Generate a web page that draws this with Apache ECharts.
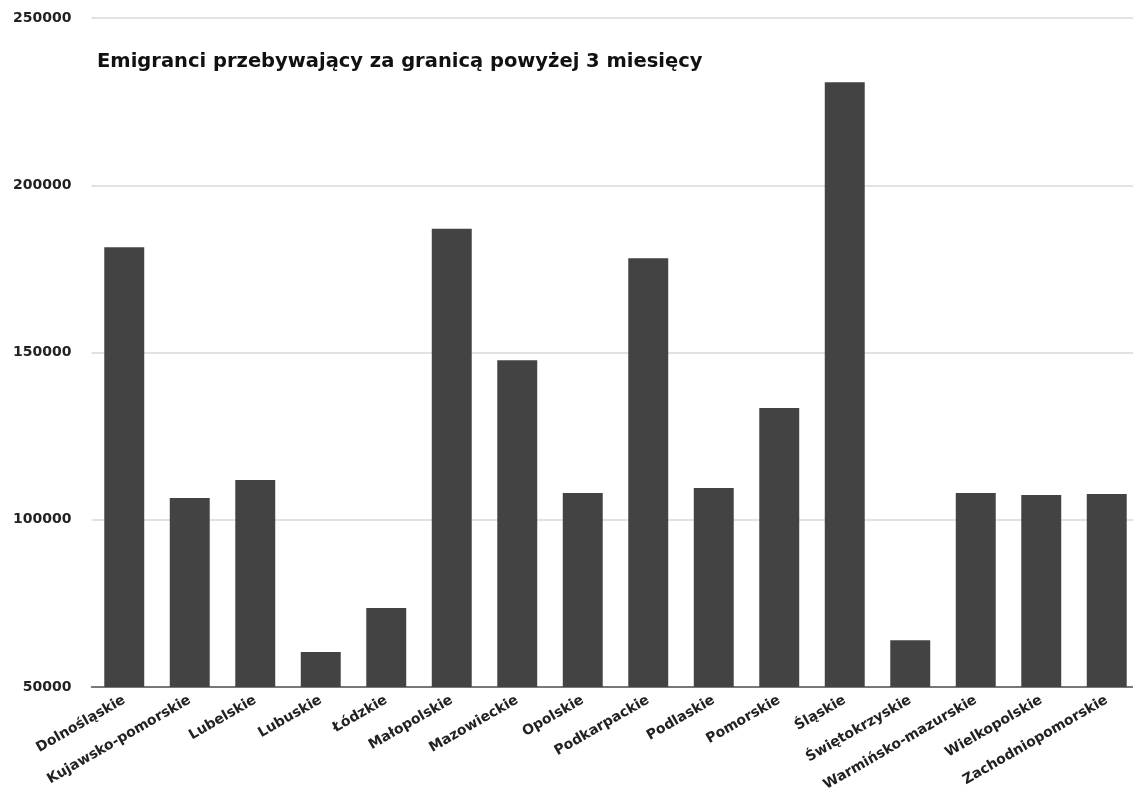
<!DOCTYPE html>
<html>
<head>
<meta charset="utf-8">
<script src="https://cdn.jsdelivr.net/npm/echarts@6/dist/echarts.min.js"></script>
<style>
    html, body { margin: 0; padding: 0; background: #fff; }
    #chart { width: 1133px; height: 801px; }
</style>
</head>
<body>
<div id="chart"></div>
<script>
// województwa
var regions = [
    'Dolnośląskie', 'Kujawsko-pomorskie', 'Lubelskie', 'Lubuskie', 'Łódzkie',
    'Małopolskie', 'Mazowieckie', 'Opolskie', 'Podkarpackie', 'Podlaskie',
    'Pomorskie', 'Śląskie', 'Świętokrzyskie', 'Warmińsko-mazurskie',
    'Wielkopolskie', 'Zachodniopomorskie'
];
var emigrants = [
    181500, 106500, 111900, 60500, 73600,
    187000, 147700, 108000, 178200, 109500,
    133400, 230800, 64000, 108000,
    107400, 107700
];
var yTicks = [50000, 100000, 150000, 200000, 250000];

var labelFont = '"DejaVu Sans", sans-serif';

var myChart = echarts.init(document.getElementById('chart'));
myChart.setOption({
    animation: false,
    title: {
        text: 'Emigranci przebywający za granicą powyżej 3 miesięcy',
        left: 92,
        top: 47,
        textStyle: {
            fontFamily: labelFont,
            fontSize: 19.5,
            fontWeight: 'bold',
            color: '#111',
        },
    },
    grid: {
        left: 91.5,
        top: 18,
        width: 1048,
        bottom: 114,
        containLabel: false,
        outerBoundsMode: 'none',
    },
    xAxis: {
        type: 'category',
        data: regions,
        axisLine: {
            show: true,
            lineStyle: { color: '#555', width: 1.5 },
        },
        axisTick: { show: false },
        axisLabel: {
            interval: 0,
            rotate: 30,
            margin: 12,
            color: '#222',
            fontFamily: labelFont,
            fontSize: 14,
            fontWeight: 'bold',
        },
    },
    yAxis: {
        type: 'value',
        min: yTicks[0],
        max: yTicks[yTicks.length - 1],
        interval: yTicks[1] - yTicks[0],
        axisLine: { show: false },
        axisTick: { show: false },
        axisLabel: {
            margin: 20,
            color: '#222',
            fontFamily: labelFont,
            fontSize: 14,
            fontWeight: 'bold',
            formatter: function (v) { return String(v); },
        },
        splitLine: {
            show: true,
            lineStyle: { color: '#d9d9d9', width: 1.5 },
        },
    },
    series: [{
        type: 'bar',
        data: emigrants,
        barCategoryGap: '39%',
        itemStyle: { color: '#434343' },
    }],
});
</script>
</body>
</html>
